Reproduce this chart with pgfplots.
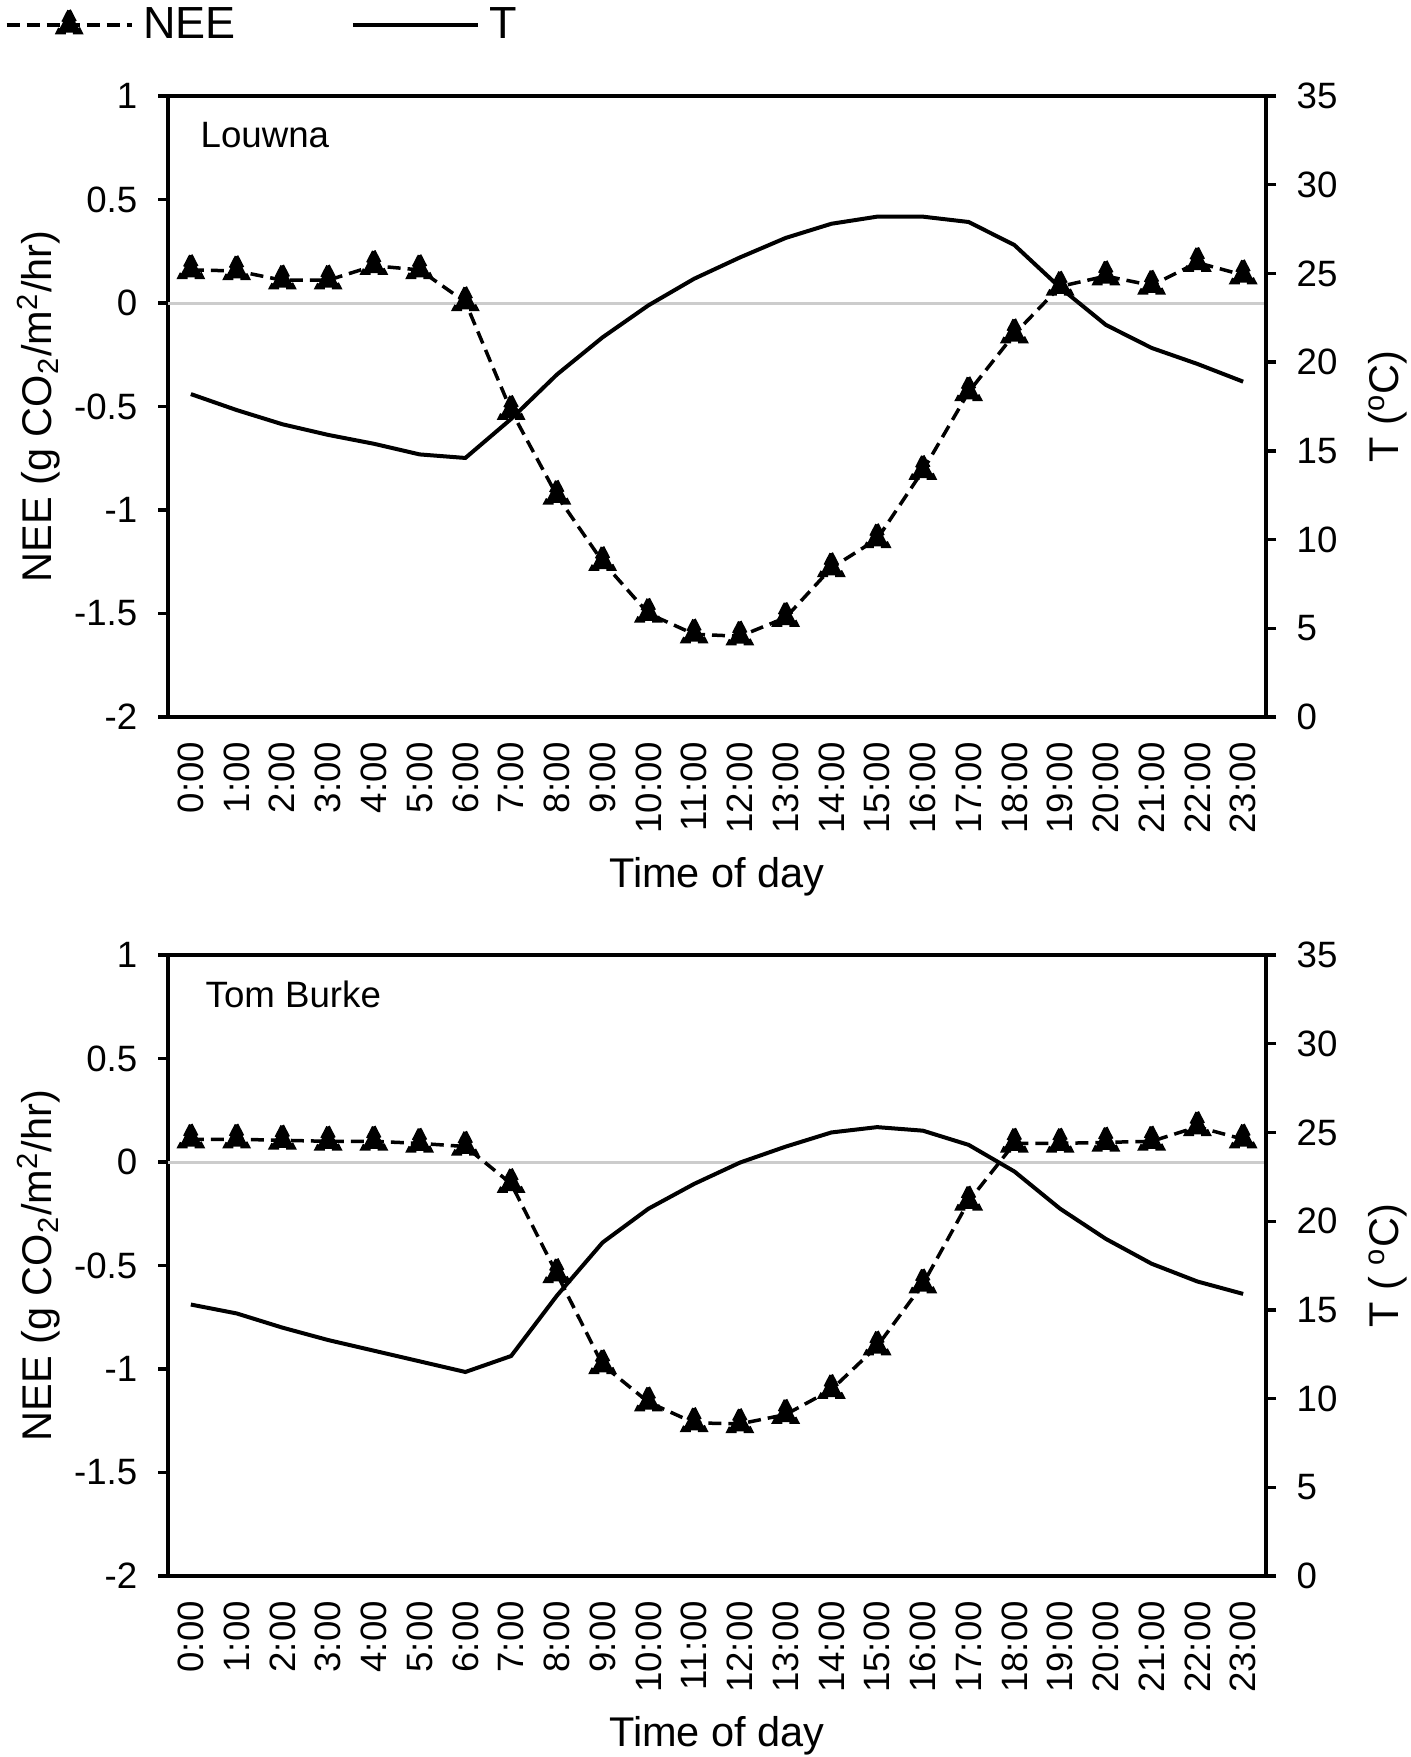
\documentclass[border=0pt]{standalone}
\usepackage{fontspec}
\setmainfont{Liberation Sans}
\usepackage{pgfplots}
\usepackage{pgfplotstable}
\pgfplotsset{compat=1.18}

\pgfplotstableread{
h nee t
0 0.16 18.2
1 0.155 17.3
2 0.11 16.5
3 0.11 15.9
4 0.18 15.4
5 0.16 14.8
6 0.005 14.6
7 -0.52 16.8
8 -0.93 19.3
9 -1.25 21.4
10 -1.50 23.2
11 -1.60 24.7
12 -1.61 25.9
13 -1.52 27.0
14 -1.28 27.8
15 -1.14 28.2
16 -0.81 28.2
17 -0.43 27.9
18 -0.15 26.6
19 0.08 24.2
20 0.13 22.1
21 0.085 20.8
22 0.195 19.9
23 0.135 18.9
}\louwna

\pgfplotstableread{
h nee t
0 0.11 15.3
1 0.11 14.8
2 0.105 14.0
3 0.10 13.3
4 0.10 12.7
5 0.09 12.1
6 0.075 11.5
7 -0.105 12.4
8 -0.54 15.8
9 -0.98 18.8
10 -1.16 20.7
11 -1.26 22.1
12 -1.265 23.3
13 -1.22 24.2
14 -1.10 25.0
15 -0.89 25.3
16 -0.59 25.1
17 -0.19 24.3
18 0.09 22.8
19 0.09 20.7
20 0.095 19.0
21 0.10 17.6
22 0.17 16.6
23 0.11 15.9
}\tomburke

\pgfplotsset{
  base/.style={
    scale only axis, width=329.4pt, height=186.3pt,
    anchor=south west,
    xmin=-0.5, xmax=23.5,
    axis line style={line width=1pt},
    every tick/.style={black, line width=1pt},
    major tick length=3pt,
    tick align=outside,
    ticklabel style={font=\fontsize{11}{13}\selectfont},
    /pgf/number format/assume math mode=true,
  },
  left/.style={
    base,
    ymin=-2, ymax=1,
    ytick={-2,-1.5,-1,-0.5,0,0.5,1},
    ytick pos=left,
    yticklabel style={inner xsep=6.0pt},
    xtick={0,...,23},
    xticklabels={0:00,1:00,2:00,3:00,4:00,5:00,6:00,7:00,8:00,9:00,10:00,11:00,12:00,13:00,14:00,15:00,16:00,17:00,18:00,19:00,20:00,21:00,22:00,23:00},
    xtick style={draw=none},
    xticklabel style={rotate=90, anchor=east, inner xsep=4.3pt},
    xlabel={Time of day},
    every axis x label/.style={at={(axis description cs:0.5,-0.2738)}, anchor=base, font=\fontsize{12.45}{15}\selectfont},
    ylabel={NEE (g CO\textsubscript{2}/m\textsuperscript{2}/hr)},
    every axis y label/.style={at={(axis description cs:-0.1059,0.5)}, anchor=base, rotate=90, font=\fontsize{12.45}{15}\selectfont},
  },
  right/.style={
    base,
    axis y line*=right, axis x line=none,
    ymin=0, ymax=35,
    ytick={0,5,...,35},
    yticklabel style={inner xsep=6pt},
    every axis y label/.style={at={(axis description cs:1.1211,0.5)}, anchor=base, rotate=90, font=\fontsize{12.45}{15}\selectfont},
  },
  neestyle/.style={black, line width=1.05pt, dash pattern=on 3.9pt off 2.1pt, mark=triangle*, mark size=4pt, mark options={yscale=1.12}},
  tstyle/.style={black, line width=1.2pt},
  zerostyle/.style={color=black!20, line width=0.9pt, forget plot},
}

\begin{document}
\begin{tikzpicture}
\path[use as bounding box] (0,0) rectangle (423pt,-527.1pt);

% Upper panel: Louwna
\begin{axis}[left, at={(50.4pt,-215.1pt)},
  legend image code/.code={\draw[mark repeat=2,mark phase=2,#1] plot coordinates {(0pt,0pt) (18.75pt,0pt) (37.5pt,0pt)};},
  legend columns=2,
  legend style={at={(axis description cs:-0.1485,1.1143)}, anchor=west, draw=none, fill=none,
    inner sep=0pt, outer sep=0pt, font=\fontsize{13.5}{16}\selectfont,
    nodes={inner sep=0pt},
    /tikz/every odd column/.append style={column sep=3pt},
    /tikz/every even column/.append style={column sep=34.5pt}},
  legend cell align=left]
\addplot[zerostyle] coordinates {(-0.5,0) (23.5,0)};
\addplot[neestyle] table[x=h,y=nee]{\louwna};
\addlegendentry{NEE}
\addlegendimage{tstyle}
\addlegendentry{T}
\node[anchor=base west, inner sep=0pt, font=\fontsize{11}{13}\selectfont] at (axis description cs:0.0291,0.9163) {Louwna};
\end{axis}
\begin{axis}[right, at={(50.4pt,-215.1pt)}, ylabel={T (\textsuperscript{o}C)}]
\addplot[tstyle] table[x=h,y=t]{\louwna};
\end{axis}

% Lower panel: Tom Burke
\begin{axis}[left, at={(50.4pt,-472.8pt)}]
\addplot[zerostyle] coordinates {(-0.5,0) (23.5,0)};
\addplot[neestyle] table[x=h,y=nee]{\tomburke};
\node[anchor=base west, inner sep=0pt, font=\fontsize{11}{13}\selectfont] at (axis description cs:0.0337,0.9163) {Tom Burke};
\end{axis}
\begin{axis}[right, at={(50.4pt,-472.8pt)}, ylabel={T ( \textsuperscript{o}C)}]
\addplot[tstyle] table[x=h,y=t]{\tomburke};
\end{axis}
\end{tikzpicture}
\end{document}
